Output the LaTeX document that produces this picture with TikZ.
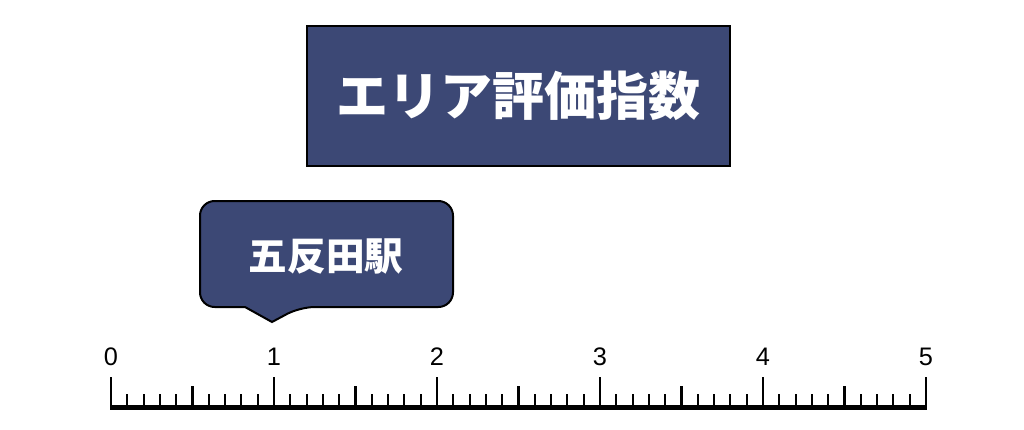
\documentclass[tikz,border=0pt]{standalone}
\usepackage{fontspec}
\newfontfamily\cjk{Noto Sans CJK JP}
\setsansfont{Liberation Sans}
\definecolor{navy}{HTML}{3C4875}
\begin{document}
\begin{tikzpicture}[x=0.75pt,y=-0.75pt,
  box/.style={fill=navy,draw=black,line width=1.5pt},
  lbl/.style={font=\sffamily\fontsize{19}{19}\selectfont,inner sep=0pt}]
\useasboundingbox (0,0) rectangle (1024,429);
\node[box,minimum width=423*0.75pt,minimum height=140*0.75pt,anchor=north west,inner sep=0pt] (title) at (306,25)
  {\cjk\bfseries\fontsize{39}{39}\selectfont\color{white}エリア評価指数};
\draw[box,rounded corners=11pt] (245,307) -- (200,307) -- (200,201) -- (453,201) -- (453,307) -- (300,307)
  [sharp corners] -- (272,322) -- (245,307) -- cycle;
\node[inner sep=0pt] (st) at (326,256) {\cjk\bfseries\fontsize{29}{29}\selectfont\color{white}五反田駅};
\coordinate (tip) at (272,322);
\foreach \i in {0,...,50}{
  \pgfmathsetmacro\xx{111+\i*16.3}
  \pgfmathtruncatemacro\r{mod(\i,10)}
  \pgfmathtruncatemacro\h{mod(\i,5)}
  \ifnum\r=0 \draw[line width=1.6pt] (\xx,377) -- (\xx,408);
  \else\ifnum\h=0 \draw[line width=1.6pt] (\xx,386) -- (\xx,408);
  \else \draw[line width=1.6pt] (\xx,394) -- (\xx,408); \fi\fi
}
\draw[line width=4pt] (110,407.5) coordinate (a) -- (927,407.5) coordinate (b);
\foreach \n in {0,...,5}{
  \node[lbl] (n\n) at (111+\n*163,357) {\n};
}
\end{tikzpicture}
\end{document}
